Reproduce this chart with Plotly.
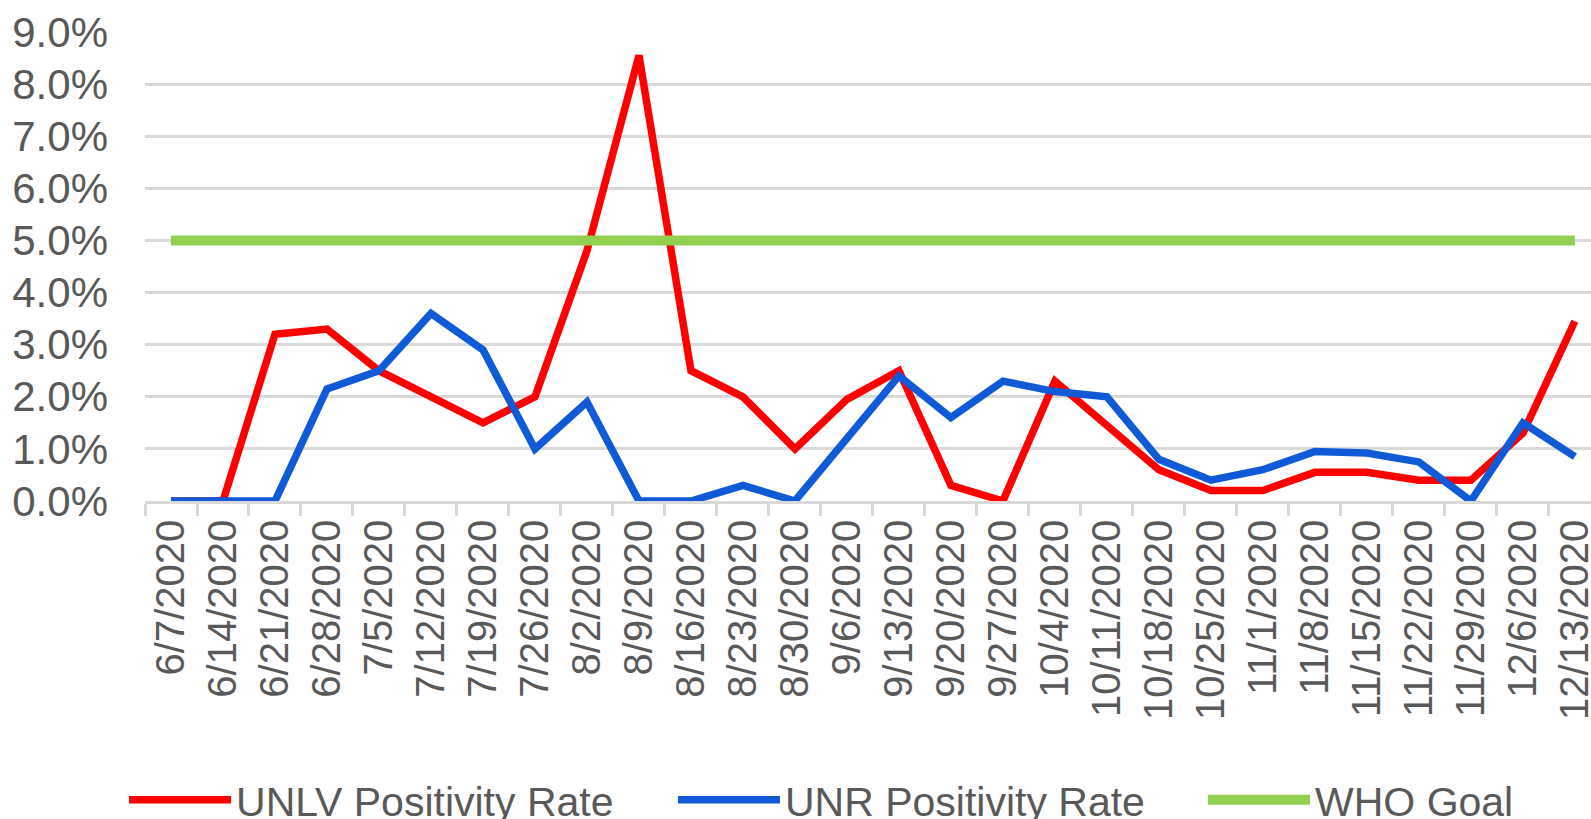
import plotly.graph_objects as go

dates = ["6/7/2020", "6/14/2020", "6/21/2020", "6/28/2020", "7/5/2020", "7/12/2020",
         "7/19/2020", "7/26/2020", "8/2/2020", "8/9/2020", "8/16/2020", "8/23/2020",
         "8/30/2020", "9/6/2020", "9/13/2020", "9/20/2020", "9/27/2020", "10/4/2020",
         "10/11/2020", "10/18/2020", "10/25/2020", "11/1/2020", "11/8/2020", "11/15/2020",
         "11/22/2020", "11/29/2020", "12/6/2020", "12/13/2020"]

unlv_rate = [0.0, 0.0, 3.2, 3.3, 2.5, 2.0, 1.5, 2.0, 4.8, 8.55, 2.5, 2.0, 1.0, 1.95,
             2.5, 0.3, 0.0, 2.3, 1.45, 0.6, 0.2, 0.2, 0.55, 0.55, 0.4, 0.4, 1.3, 3.45]

unr_rate = [0.0, 0.0, 0.0, 2.15, 2.5, 3.6, 2.9, 1.0, 1.9, 0.0, 0.0, 0.3, 0.0, 1.2,
            2.4, 1.6, 2.3, 2.1, 2.0, 0.8, 0.4, 0.6, 0.95, 0.92, 0.75, 0.0, 1.5, 0.85]

who_goal = [5.0] * len(dates)

y_ticks = [0, 1, 2, 3, 4, 5, 6, 7, 8, 9]
y_tick_labels = ["0.0%", "1.0%", "2.0%", "3.0%", "4.0%", "5.0%", "6.0%", "7.0%", "8.0%", "9.0%"]

FONT = "Liberation Sans, Arial, sans-serif"
GRAY = "#595959"
GRID = "#d9d9d9"

fig = go.Figure()
fig.add_trace(go.Scatter(x=dates, y=unlv_rate, mode="lines", name="UNLV Positivity Rate",
                         line=dict(color="#ff0000", width=7.5), legend="legend"))
fig.add_trace(go.Scatter(x=dates, y=unr_rate, mode="lines", name="UNR Positivity Rate",
                         line=dict(color="#105ad8", width=7.5), legend="legend2"))
fig.add_trace(go.Scatter(x=dates, y=who_goal, mode="lines", name="WHO Goal",
                         line=dict(color="#92d050", width=10), legend="legend3"))

leg_common = dict(orientation="h", xanchor="left", y=-0.6375, yanchor="middle",
                  font=dict(size=41, color=GRAY, family=FONT), itemwidth=102,
                  bgcolor="rgba(0,0,0,0)")

fig.update_layout(
    width=1591, height=819,
    margin=dict(l=145, r=0, t=32, b=318, autoexpand=False),
    paper_bgcolor="white", plot_bgcolor="white",
    font=dict(family=FONT, color=GRAY, size=38),
    showlegend=True,
    legend=dict(x=-0.0145, **leg_common),
    legend2=dict(x=0.3651, **leg_common),
    legend3=dict(x=0.7317, **leg_common),
    xaxis=dict(type="category", range=[-0.5, 27.31], showgrid=False,
               showline=True, linecolor=GRID, linewidth=2.5,
               ticks="outside", ticklen=12, tickwidth=2.5, tickcolor=GRID,
               tickson="boundaries", tickangle=-90, ticklabelstandoff=0,
               tickfont=dict(size=40, color=GRAY, family=FONT)),
    yaxis=dict(range=[0, 9], tickvals=y_ticks, ticktext=y_tick_labels,
               showgrid=True, gridcolor=GRID, gridwidth=2.5, zeroline=False,
               showline=False, ticks="", ticklabelstandoff=36,
               tickfont=dict(size=42, color=GRAY, family=FONT)),
)

fig.write_html("out.html", config={"displayModeBar": False},
               post_script="document.body.style.margin='0';document.body.style.overflow='hidden';")
